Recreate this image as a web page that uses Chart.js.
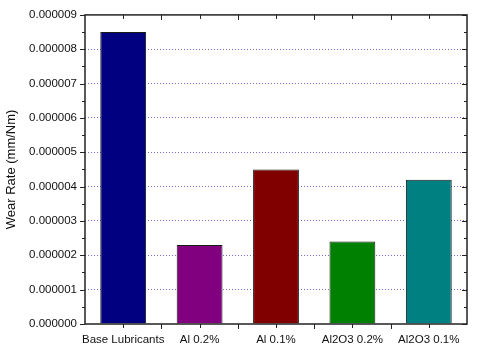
<!DOCTYPE html>
<html>
<head>
<meta charset="utf-8">
<script src="https://cdn.jsdelivr.net/npm/chart.js@4.4.0/dist/chart.umd.min.js"></script>
<style>
  html, body { margin: 0; padding: 0; background: #fff; }
  #wrap { width: 480px; height: 353px; }
</style>
</head>
<body>
<div id="wrap"><canvas id="wear-chart" width="480" height="353"></canvas></div>
<script>
// Chart data
const categories = ['Base Lubricants', 'Al 0.2%', 'Al 0.1%', 'Al2O3 0.2%', 'Al2O3 0.1%'];
const wearRates = [0.0000085, 0.0000023, 0.0000045, 0.0000024, 0.0000042];
const barColors = ['#000080', '#800080', '#800000', '#008000', '#008080'];
const yTicks = [0, 0.000001, 0.000002, 0.000003, 0.000004, 0.000005, 0.000006, 0.000007, 0.000008, 0.000009];

const FONT = 'Arial, "Liberation Sans", sans-serif';

// Frame and tick marks drawn in Origin style
const framePlugin = {
    id: 'frame',
    afterDraw(chart) {
        const ctx = chart.ctx;
        const a = chart.chartArea;
        const x = chart.scales.x;
        const y = chart.scales.y;
        ctx.save();
        ctx.strokeStyle = '#222';
        ctx.lineWidth = 1.5;
        ctx.strokeRect(a.left, a.top, a.right - a.left, a.bottom - a.top);

        ctx.lineWidth = 1;
        ctx.beginPath();
        // y ticks: majors and half-step minors
        yTicks.forEach((v, i) => {
            const py = Math.round(y.getPixelForValue(v)) + 0.5;
            ctx.moveTo(a.left, py); ctx.lineTo(a.left - 5, py);
            ctx.moveTo(a.right, py); ctx.lineTo(a.right - 5, py);
            if (i < yTicks.length - 1) {
                const my = Math.round(y.getPixelForValue((v + yTicks[i + 1]) / 2)) + 0.5;
                ctx.moveTo(a.left, my); ctx.lineTo(a.left - 3, my);
                ctx.moveTo(a.right, my); ctx.lineTo(a.right - 3, my);
            }
        });
        // x ticks: category centres and boundaries
        const step = (a.right - a.left) / categories.length;
        categories.forEach((c, i) => {
            const cx = Math.round(x.getPixelForValue(i)) + 0.5;
            ctx.moveTo(cx, a.bottom); ctx.lineTo(cx, a.bottom + 4);
            ctx.moveTo(cx, a.top); ctx.lineTo(cx, a.top + 4);
            if (i > 0) {
                const bx = Math.round(a.left + step * i) + 0.5;
                ctx.moveTo(bx, a.bottom); ctx.lineTo(bx, a.bottom + 5);
                ctx.moveTo(bx, a.top); ctx.lineTo(bx, a.top + 5);
            }
        });
        ctx.stroke();
        ctx.restore();
    }
};

new Chart(document.getElementById('wear-chart'), {
    type: 'bar',
    data: {
        labels: categories,
        datasets: [{
            data: wearRates,
            backgroundColor: barColors,
            borderColor: '#1a1a1a',
            borderWidth: 1,
            categoryPercentage: 1,
            barPercentage: 0.6
        }]
    },
    options: {
        responsive: false,
        animation: false,
        devicePixelRatio: 1,
        layout: { padding: { left: 0, top: 13, right: 13, bottom: 0 } },
        plugins: {
            legend: { display: false },
            tooltip: { enabled: false }
        },
        scales: {
            x: {
                grid: { display: false, drawTicks: false },
                border: { display: false },
                ticks: {
                    color: '#111',
                    font: { family: FONT, size: 11.5 },
                    padding: 9,
                    maxRotation: 0,
                    autoSkip: false
                },
                afterFit(scale) { scale.height = 29; }
            },
            y: {
                min: 0,
                max: 0.000009,
                grid: {
                    drawTicks: false,
                    lineWidth: 1,
                    color: ctx => (ctx.tick && (ctx.tick.value <= 0 || ctx.tick.value >= 0.0000089)) ? 'rgba(0,0,0,0)' : '#7070d0'
                },
                border: { display: false, dash: [1, 2] },
                ticks: {
                    stepSize: 0.000001,
                    color: '#111',
                    font: { family: FONT, size: 11.5 },
                    padding: 8,
                    callback: v => Number(v).toFixed(6)
                },
                title: {
                    display: true,
                    text: 'Wear Rate (mm/Nm)',
                    color: '#111',
                    font: { family: FONT, size: 13 },
                    padding: { top: 4, bottom: 0 }
                },
                afterFit(scale) { scale.width = 85; }
            }
        }
    },
    plugins: [framePlugin]
});
</script>
</body>
</html>
